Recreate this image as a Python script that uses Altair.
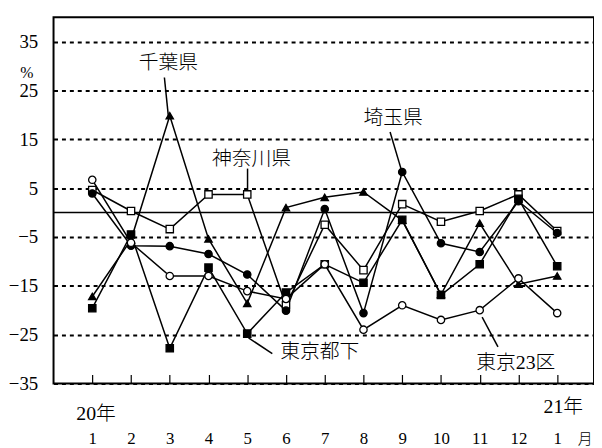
import altair as alt
import pandas as pd

# ---- data ----
month_index = list(range(1, 14))
month_labels = ["1", "2", "3", "4", "5", "6", "7", "8", "9", "10", "11", "12", "1"]
series_names = ["千葉県", "神奈川県", "埼玉県", "東京都下", "東京23区"]

chiba = [-17.2, -5.6, 19.8, -5.4, -18.6, 1.0, 3.1, 4.2, -1.6, -16.8, -2.2, -14.7, -13.0]
kanagawa = [4.6, 0.3, -3.4, 3.7, 3.7, -19.0, -2.5, -11.8, 1.7, -1.9, 0.3, 3.7, -3.8]
saitama = [3.9, -6.8, -6.9, -8.5, -12.7, -20.1, 0.7, -20.6, 8.3, -6.3, -8.1, 2.3, -4.2]
tokyo_shita = [-19.6, -4.5, -27.8, -11.3, -24.8, -16.4, -10.6, -14.4, -1.5, -16.9, -10.6, 2.8, -11.0]
tokyo23 = [6.7, -6.2, -13.0, -13.0, -16.1, -17.7, -10.6, -24.0, -19.0, -22.0, -20.0, -13.5, -20.6]

y_ticks = [-35, -25, -15, -5, 5, 15, 25, 35]
zero_line = [0]

series_values = [chiba, kanagawa, saitama, tokyo_shita, tokyo23]
shapes = ["triangle-up", "square", "circle", "square", "circle"]
fills = ["black", "white", "black", "black", "white"]

rows = []
for name, vals in zip(series_names, series_values):
    for i, v in zip(month_index, vals):
        rows.append({"series": name, "idx": i, "value": v})
df = pd.DataFrame(rows)

W, H = 546, 370
num_font = "'Liberation Serif', 'DejaVu Serif', serif"
mix_font = "'Liberation Serif', 'Noto Sans CJK JP', serif"

xs = alt.Scale(domain=[0, 13.95], nice=False, zero=False)
ys = alt.Scale(domain=[-35, 40], nice=False, zero=False)

label_expr = "[" + ",".join('"%s"' % m for m in month_labels) + "][datum.value - 1]"

x_enc = alt.X(
    "idx:Q", scale=xs,
    axis=alt.Axis(values=month_index, labelExpr=label_expr, title=None, domain=False,
                  grid=False, tickSize=9, tickColor="black", tickWidth=1.2, offset=-9,
                  labelPadding=56, labelBaseline="middle", labelFont=num_font,
                  labelFontSize=17, labelColor="black"),
)
y_enc = alt.Y(
    "value:Q", scale=ys,
    axis=alt.Axis(values=y_ticks, title=None, domain=False, ticks=False, grid=True,
                  gridDash=[4, 4], gridColor="black", gridWidth=2, gridOpacity=1,
                  labelPadding=16, labelFont=num_font, labelFontSize=19,
                  labelColor="black", labelBaseline="middle"),
)

base = alt.Chart(df)
lines = base.mark_line(color="black", strokeWidth=1.5).encode(
    x=x_enc, y=y_enc, detail="series:N"
)
points = base.mark_point(filled=True, size=55, stroke="black", strokeWidth=1.3, opacity=1).encode(
    x=alt.X("idx:Q", scale=xs),
    y=alt.Y("value:Q", scale=ys),
    shape=alt.Shape("series:N", scale=alt.Scale(domain=series_names, range=shapes), legend=None),
    fill=alt.Fill("series:N", scale=alt.Scale(domain=series_names, range=fills), legend=None),
)

zero = alt.Chart(pd.DataFrame({"v": zero_line})).mark_rule(color="black", strokeWidth=1.6).encode(
    y=alt.Y("v:Q", scale=ys)
)


def text_mark(t, x, y, size=20, font=mix_font, align="center"):
    return alt.Chart(pd.DataFrame({"t": [t]})).mark_text(
        font=font, fontSize=size, fontWeight=300, color="black", align=align, baseline="middle"
    ).encode(text="t:N", x=alt.value(x), y=alt.value(y))


def leader(x1, y1, x2, y2):
    return alt.Chart(pd.DataFrame({"a": [0]})).mark_rule(color="black", strokeWidth=1.5).encode(
        x=alt.value(x1), y=alt.value(y1), x2=alt.value(x2), y2=alt.value(y2)
    )


texts = [
    text_mark("千葉県", 116, 46),
    text_mark("神奈川県", 200, 143),
    text_mark("埼玉県", 343, 102),
    text_mark("東京都下", 269, 338),
    text_mark("東京23区", 467, 349),
    text_mark("20年", 43, 401),
    text_mark("21年", 515, 394),
    text_mark("月", 537, 426, size=15),
    text_mark("%", -27, 56, size=16, font=num_font),
]
leaders = [
    leader(112, 61, 116, 100),
    leader(196, 153, 196, 175),
    leader(340, 116, 351, 153),
    leader(197, 324, 221, 340),
    leader(433, 303, 449, 333),
]

chart = alt.layer(zero, lines, *leaders, points, *texts).properties(
    width=W, height=H,
    padding={"left": 46, "top": 7, "right": 0, "bottom": 62},
    autosize=alt.AutoSizeParams(type="none"),
).configure_view(stroke="black", strokeWidth=2)

chart.save("out.html", embed_options={"renderer": "svg", "actions": False})
